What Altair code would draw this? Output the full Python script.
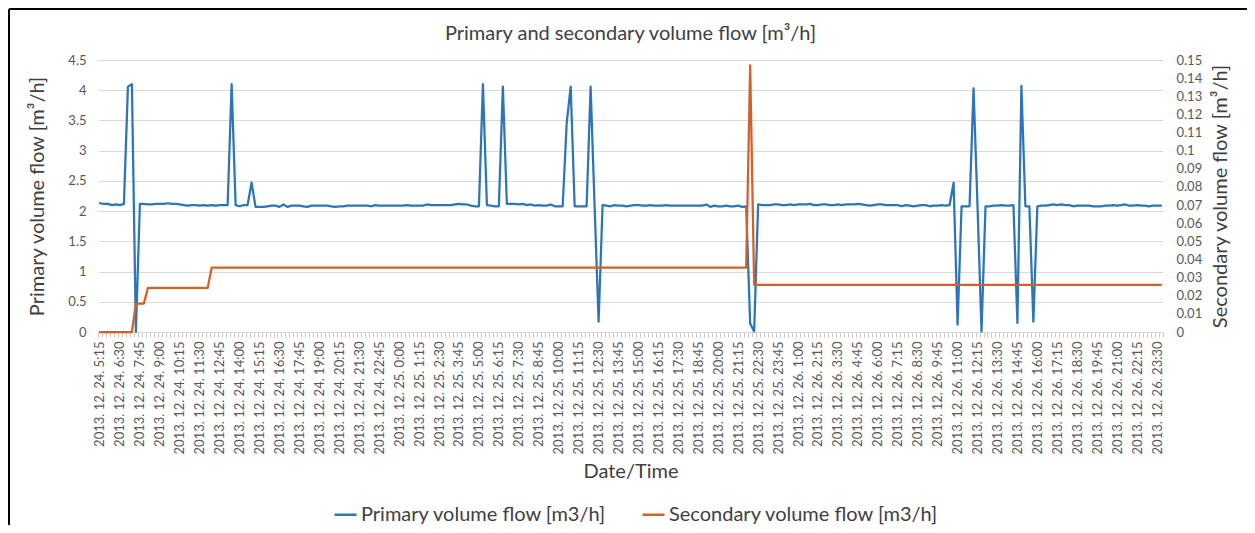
import json
import altair as alt
import pandas as pd

# ---------------- data ----------------
start_time = "2013-12-24 05:15"
n_points = 267
label_every = 5

primary_flow = [
    2.13, 2.12, 2.12, 2.10, 2.11, 2.10, 2.12, 4.06, 4.10, 0.00,
    2.12, 2.12, 2.11, 2.11, 2.12, 2.12, 2.12, 2.13, 2.12, 2.12,
    2.11, 2.10, 2.09, 2.10, 2.10, 2.09, 2.10, 2.09, 2.10, 2.09,
    2.10, 2.10, 2.10, 4.10, 2.10, 2.08, 2.10, 2.10, 2.47, 2.07,
    2.07, 2.07, 2.08, 2.09, 2.09, 2.07, 2.11, 2.07, 2.09, 2.09,
    2.09, 2.08, 2.07, 2.09, 2.09, 2.09, 2.09, 2.09, 2.08, 2.07,
    2.08, 2.08, 2.09, 2.09, 2.09, 2.09, 2.09, 2.09, 2.08, 2.10,
    2.09, 2.09, 2.09, 2.09, 2.09, 2.09, 2.09, 2.10, 2.09, 2.09,
    2.09, 2.09, 2.11, 2.10, 2.10, 2.10, 2.10, 2.10, 2.10, 2.11,
    2.12, 2.11, 2.11, 2.09, 2.08, 2.08, 4.10, 2.10, 2.09, 2.08,
    2.08, 4.06, 2.12, 2.12, 2.12, 2.11, 2.12, 2.10, 2.11, 2.09,
    2.10, 2.09, 2.09, 2.11, 2.08, 2.08, 2.08, 3.45, 4.06, 2.08,
    2.08, 2.08, 2.08, 4.06, 2.08, 0.17, 2.10, 2.09, 2.08, 2.10,
    2.09, 2.09, 2.08, 2.09, 2.10, 2.10, 2.09, 2.09, 2.10, 2.09,
    2.09, 2.09, 2.10, 2.09, 2.09, 2.09, 2.09, 2.09, 2.09, 2.09,
    2.09, 2.09, 2.11, 2.07, 2.09, 2.08, 2.08, 2.09, 2.08, 2.08,
    2.09, 2.07, 2.08, 0.14, 0.01, 2.11, 2.10, 2.10, 2.10, 2.11,
    2.11, 2.10, 2.10, 2.11, 2.10, 2.11, 2.11, 2.11, 2.12, 2.10,
    2.10, 2.11, 2.11, 2.10, 2.10, 2.11, 2.10, 2.11, 2.11, 2.11,
    2.12, 2.11, 2.10, 2.09, 2.10, 2.11, 2.11, 2.10, 2.10, 2.10,
    2.10, 2.08, 2.10, 2.09, 2.08, 2.09, 2.10, 2.10, 2.08, 2.09,
    2.09, 2.10, 2.09, 2.10, 2.47, 0.12, 2.08, 2.08, 2.08, 4.03,
    2.08, 0.01, 2.08, 2.08, 2.09, 2.09, 2.10, 2.09, 2.09, 2.10,
    0.15, 4.07, 2.08, 2.08, 0.17, 2.08, 2.09, 2.09, 2.10, 2.11,
    2.10, 2.11, 2.10, 2.10, 2.08, 2.09, 2.09, 2.09, 2.09, 2.08,
    2.08, 2.08, 2.09, 2.09, 2.10, 2.09, 2.10, 2.11, 2.09, 2.09,
    2.10, 2.09, 2.09, 2.08, 2.09, 2.09, 2.09,
]

# secondary flow is a step line: value levels and how many samples each lasts
secondary_levels = [0.0, 0.0157, 0.0243, 0.0355, 0.147, 0.026]
secondary_counts = [9, 3, 16, 135, 1, 103]

primary_ticks = [0, 0.5, 1, 1.5, 2, 2.5, 3, 3.5, 4, 4.5]
secondary_ticks = [0, 0.01, 0.02, 0.03, 0.04, 0.05, 0.06, 0.07, 0.08,
                   0.09, 0.1, 0.11, 0.12, 0.13, 0.14, 0.15]

series_names = ["Primary volume flow [m3/h]", "Secondary volume flow [m3/h]"]
series_colors = ["#2E75B6", "#D2602A"]

chart_title = "Primary and secondary volume flow [m³/h]"
y1_title = "Primary volume flow [m³/h]"
y2_title = "Secondary volume flow [m³/h]"
x_title = "Date/Time"

# ---------------- build table ----------------
times = pd.date_range(start_time, periods=n_points, freq="15min")
time_labels = [f"{t.year}. {t.month}. {t.day}. {t.hour}:{t.minute:02d}" for t in times]
shown_labels = time_labels[::label_every]

secondary_flow = []
for lvl, cnt in zip(secondary_levels, secondary_counts):
    secondary_flow += [lvl] * cnt

df = pd.DataFrame({
    "time": time_labels + time_labels,
    "series": [series_names[0]] * n_points + [series_names[1]] * n_points,
    "value": primary_flow + secondary_flow,
})

FONT = "Lato"
BIG = 20
W, H = 1065, 272
PAD = {"left": 90, "top": 52, "right": 84, "bottom": 193}

label_expr = "indexof(" + json.dumps(shown_labels) + ", datum.value) >= 0 ? datum.value : ''"

x_enc = alt.X(
    "time:N", sort=None,
    scale=alt.Scale(type="band", paddingInner=0, paddingOuter=0),
    axis=alt.Axis(
        title=x_title, labelExpr=label_expr, labelAngle=270, labelOverlap=False,
        labelAlign="right", labelBaseline="middle",
        labelFontSize=13, labelColor="#595959", labelPadding=4,
        tickBand="extent", tickSize=5, tickColor="#c8c8c8", domainColor="#d9d9d9",
        grid=False, titleFontSize=BIG, titleFontWeight="normal", titleColor="#404040",
        titleY=139, titleBaseline="middle",
    ),
)

color_enc = alt.Color(
    "series:N",
    scale=alt.Scale(domain=series_names, range=series_colors),
    legend=alt.Legend(
        title=None, orient="none", legendX=235, legendY=442, direction="horizontal",
        symbolType="stroke", symbolStrokeWidth=2.5, symbolSize=484,
        labelFontSize=BIG, labelColor="#404040", labelOffset=3,
        columnPadding=30, labelLimit=400,
    ),
)

primary = alt.Chart(df).transform_filter(
    alt.datum.series == series_names[0]
).mark_line(strokeWidth=2.25, strokeJoin="round", strokeCap="round").encode(
    x=x_enc,
    y=alt.Y(
        "value:Q",
        scale=alt.Scale(domain=[0, 4.5], nice=False, zero=True),
        axis=alt.Axis(
            values=primary_ticks, labelExpr="toString(datum.value)", orient="left",
            title=y1_title, grid=True, gridColor="#d9d9d9", domain=False, ticks=False,
            labelPadding=12, labelFontSize=13, labelColor="#595959",
            titleFontSize=BIG, titleFontWeight="normal", titleColor="#404040",
            titleX=-61, titleY=136, titleAngle=270, titleAlign="center", titleBaseline="middle",
        ),
    ),
    color=color_enc,
)

secondary = alt.Chart(df).transform_filter(
    alt.datum.series == series_names[1]
).mark_line(strokeWidth=2.25, strokeJoin="round", strokeCap="round").encode(
    x=x_enc,
    y=alt.Y(
        "value:Q",
        scale=alt.Scale(domain=[0, 0.15], nice=False, zero=True),
        axis=alt.Axis(
            values=secondary_ticks, labelExpr="toString(datum.value)", orient="right",
            title=y2_title, grid=False, domain=False, ticks=False,
            labelPadding=13, labelFontSize=13, labelColor="#595959",
            titleFontSize=BIG, titleFontWeight="normal", titleColor="#404040",
            titleX=57, titleY=136, titleAngle=270, titleAlign="center", titleBaseline="middle",
        ),
    ),
    color=color_enc,
)

frame_df = pd.DataFrame({"k": [0]})
frame_top = alt.Chart(frame_df).mark_rule(color="#000000", strokeWidth=2).encode(
    x=alt.value(-89), x2=alt.value(W + PAD["right"] + 5), y=alt.value(-51)
)
frame_left = alt.Chart(frame_df).mark_rule(color="#000000", strokeWidth=2).encode(
    x=alt.value(-89), y=alt.value(-51), y2=alt.value(H + PAD["bottom"] + 5)
)

chart = alt.layer(primary, secondary, frame_top, frame_left).resolve_scale(
    y="independent"
).properties(
    width=W, height=H,
    title=alt.TitleParams(
        chart_title, fontSize=BIG, fontWeight="normal", color="#404040",
        anchor="middle", frame="group", baseline="middle", offset=-46, font=FONT,
    ),
    autosize=alt.AutoSizeParams(type="none"),
    padding=PAD,
).configure(
    font=FONT,
).configure_view(
    stroke=None,
).configure_axis(
    labelFont=FONT, titleFont=FONT,
).configure_legend(
    labelFont=FONT,
)

chart.save("out.html", embed_options={"renderer": "svg", "actions": False})
